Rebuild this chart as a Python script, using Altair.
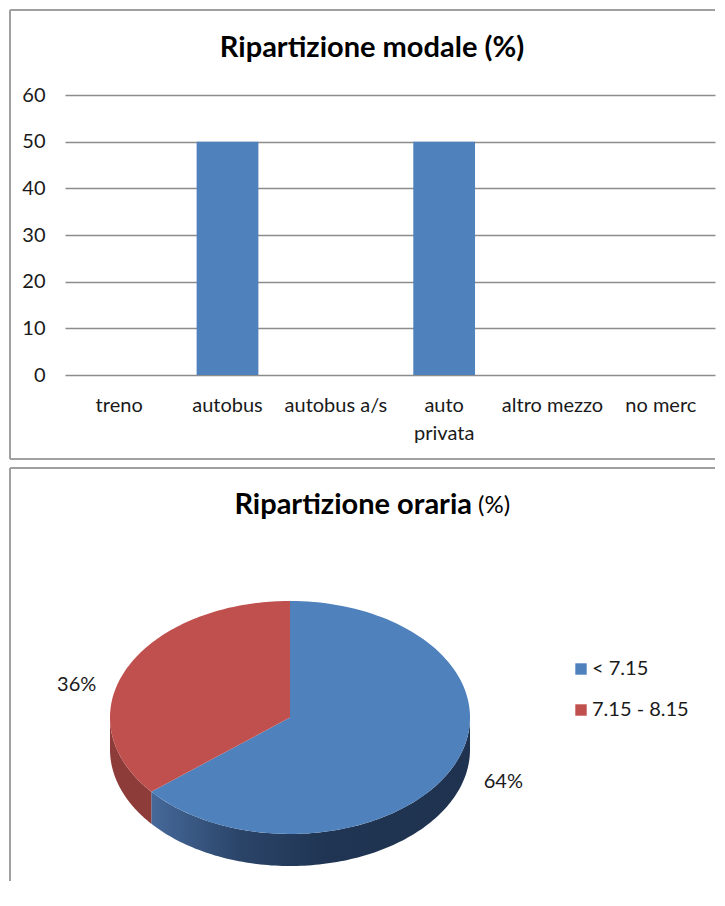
import altair as alt
import pandas as pd

# ---------------- data ----------------
modes = ["treno", "autobus", "autobus a/s", "auto privata", "altro mezzo", "no merc"]
mode_share = [0, 50, 0, 50, 0, 0]
y_ticks = [0, 10, 20, 30, 40, 50, 60]

time_slots = ["< 7.15", "7.15 - 8.15"]
time_share = [64, 36]

title_top = "Ripartizione modale (%)"
title_bottom_main = "Ripartizione oraria"
title_bottom_unit = "(%)"

# ---------------- style ----------------
FONT = "Lato"
BLUE = "#4f81bd"
RED = "#c0504d"
RED_SIDE = "#8e3c3a"
FRAME = "#a0a0a0"
GRID = "#8c8c8c"
TXT = "#1a1a1a"
W = 650
H_BAR = 280
H_PIE = 315
DEPTH = 0.275  # pie thickness in y-radius units
N = 120

bar_df = pd.DataFrame({"mezzo": modes, "pct": mode_share})
pie_df = pd.DataFrame({"fascia": time_slots, "pct": time_share, "idx": list(range(len(time_slots)))})
deco = pd.DataFrame({"d": [0]})


def rule(x, y, x2=None, y2=None):
    enc = {"x": alt.value(x), "y": alt.value(y)}
    if x2 is not None:
        enc["x2"] = alt.value(x2)
    if y2 is not None:
        enc["y2"] = alt.value(y2)
    return alt.Chart(deco).mark_rule(color=FRAME, strokeWidth=2).encode(**enc)


# ---------------- bar chart ----------------
bars = alt.Chart(bar_df).mark_bar(color=BLUE).encode(
    x=alt.X(
        "mezzo:N",
        sort=modes,
        scale=alt.Scale(paddingInner=0.43, paddingOuter=0.215),
        axis=alt.Axis(
            title=None, labelAngle=0, domain=False, ticks=False,
            labelPadding=20, labelFontSize=20, labelFont=FONT, labelColor=TXT,
            labelLineHeight=28,
            labelExpr="datum.label == 'auto privata' ? ['auto', 'privata'] : datum.label",
        ),
    ),
    y=alt.Y(
        "pct:Q",
        scale=alt.Scale(domain=[0, 60], nice=False),
        axis=alt.Axis(
            title=None, values=y_ticks, domain=False, ticks=False,
            gridColor=GRID, gridWidth=1.5, labelPadding=20,
            labelFontSize=20, labelFont=FONT, labelColor=TXT,
        ),
    ),
)

top_title = alt.Chart(deco).mark_text(
    text=title_top, font=FONT, fontSize=29, fontWeight="bold", color="#000",
    align="center", baseline="middle",
).encode(x=alt.value(307), y=alt.value(-47))

bar_chart = alt.layer(
    rule(-55, -85, y2=364),
    rule(-55, -85, x2=650),
    rule(-55, 364, x2=650),
    bars,
    top_title,
).properties(width=W, height=H_BAR)

# ---------------- 3D pie ----------------
xs = alt.Scale(domain=[-1.25, 2.361], nice=False, zero=False)
ys = alt.Scale(domain=[-1.378, 1.326], nice=False, zero=False)

pie_base = (
    alt.Chart(pie_df)
    .transform_joinaggregate(total="sum(pct)")
    .transform_window(cum="sum(pct)", sort=[alt.SortField("idx")], frame=[None, 0])
    .transform_calculate(
        a0="2*PI*(datum.cum - datum.pct)/datum.total",
        a1="2*PI*datum.cum/datum.total",
    )
)

# top faces: closed polygons centre -> arc
tops = (
    pie_base.transform_calculate(k=f"sequence(0, {N + 2})")
    .transform_flatten(["k"])
    .transform_calculate(
        t=f"datum.a0 + (datum.a1 - datum.a0) * min(datum.k, {N}) / {N}",
        px=f"datum.k <= {N} ? sin(datum.t) : 0",
        py=f"datum.k <= {N} ? cos(datum.t) : 0",
    )
    .mark_line(interpolate="linear-closed", filled=True)
    .encode(
        x=alt.X("px:Q", scale=xs, axis=None),
        y=alt.Y("py:Q", scale=ys, axis=None),
        color=alt.Color(
            "fascia:N",
            scale=alt.Scale(domain=time_slots, range=[BLUE, RED]),
            legend=alt.Legend(
                title=None, orient="none", legendX=506, legendY=96,
                direction="vertical", symbolType="square", symbolSize=130,
                symbolStrokeWidth=0, labelFontSize=20, labelFont=FONT,
                labelColor=TXT, rowPadding=21, labelOffset=1, padding=0,
            ),
        ),
        order="k:Q",
    )
)

# visible side walls (front half of the rim), as closed polygons
side = (
    pie_base.transform_calculate(s0="max(datum.a0, PI/2)", s1="min(datum.a1, 3*PI/2)")
    .transform_filter("datum.s0 < datum.s1")
    .transform_calculate(k=f"sequence(0, {2 * N + 2})")
    .transform_flatten(["k"])
    .transform_calculate(
        j=f"datum.k <= {N} ? datum.k : {2 * N + 1} - datum.k",
        t=f"datum.s0 + (datum.s1 - datum.s0) * datum.j / {N}",
        sx="sin(datum.t)",
        sy=f"cos(datum.t) - (datum.k > {N} ? {DEPTH} : 0)",
    )
)
side_enc = dict(
    x=alt.X("sx:Q", scale=xs, axis=None),
    y=alt.Y("sy:Q", scale=ys, axis=None),
    order="k:Q",
)
side_blue = side.transform_filter(alt.datum.fascia == time_slots[0]).mark_line(
    interpolate="linear-closed",
    filled=True,
    color=alt.Gradient(
        gradient="linear",
        stops=[
            alt.GradientStop(color="#46699a", offset=0),
            alt.GradientStop(color="#2a4468", offset=0.28),
            alt.GradientStop(color="#203553", offset=0.55),
            alt.GradientStop(color="#1f3350", offset=1),
        ],
        x1=0, x2=1, y1=0, y2=0,
    ),
).encode(**side_enc)
side_red = side.transform_filter(alt.datum.fascia == time_slots[1]).mark_line(
    interpolate="linear-closed", filled=True, color=RED_SIDE
).encode(**side_enc)

labels = (
    pie_base.transform_calculate(
        mid="(datum.a0 + datum.a1) / 2",
        lx="1.31 * sin(datum.mid)",
        ly=f"0.65 * cos(datum.mid) - (cos(datum.mid) < 0 ? {DEPTH} : 0)",
        txt="round(100 * datum.pct / datum.total) + '%'",
    )
    .mark_text(font=FONT, fontSize=20, color=TXT, align="center", baseline="middle")
    .encode(
        x=alt.X("lx:Q", scale=xs, axis=None),
        y=alt.Y("ly:Q", scale=ys, axis=None),
        text="txt:N",
    )
)

pie_title_main = alt.Chart(deco).mark_text(
    text=title_bottom_main, font=FONT, fontSize=29, fontWeight="bold", color="#000",
    align="right", baseline="middle",
).encode(x=alt.value(407), y=alt.value(-58))
pie_title_unit = alt.Chart(deco).mark_text(
    text=title_bottom_unit, font=FONT, fontSize=24, color="#000",
    align="left", baseline="middle",
).encode(x=alt.value(413), y=alt.value(-57))

pie_chart = alt.layer(
    rule(-55, -95, x2=650),
    rule(-55, -95, y2=318),
    side_blue,
    side_red,
    tops,
    labels,
    pie_title_main,
    pie_title_unit,
).properties(width=W, height=H_PIE)

chart = (
    alt.vconcat(bar_chart, pie_chart, spacing=5)
    .resolve_legend(color="independent")
    .resolve_scale(color="independent")
    .properties(padding=0, background="white")
    .configure_view(stroke="transparent")
)

chart.save("out.html", embed_options={"renderer": "svg", "actions": False})
